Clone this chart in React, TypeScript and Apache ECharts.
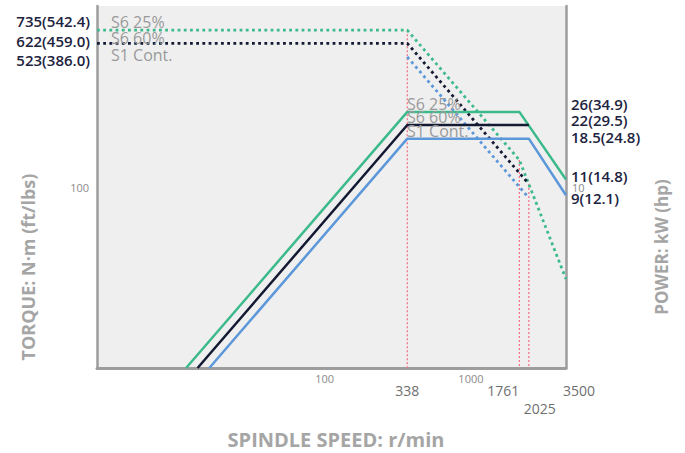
import React, { useEffect, useRef } from 'react';
import * as echarts from 'echarts';

// ---- data ----
const speedMin = 3.5;
const speedMax = 3500;
const speedLabelsMinor = [100, 1000];
const speedMarks = [338, 1761, 2025, 3500];
const torqueTickLabels = [100];
const powerTickLabels = [10];
const torqueFloor = 10;

const torqueS6_25 = [[3.5, 735], [338, 735], [1761, 141], [3500, 31]];
const torqueS6_60 = [[3.5, 622], [338, 622], [2025, 104]];
const torqueS1 = [[338, 523], [2025, 87]];
const powerS6_25 = [[13, 1], [338, 26], [1761, 26], [3500, 11]];
const powerS6_60 = [[15.4, 1], [338, 22], [2025, 22]];
const powerS1 = [[18.3, 1], [338, 18.5], [2025, 18.5], [3500, 9]];

const guideSpeeds = [338, 1761, 2025];
const guideTorques = [735, 141, 104];

const modeNames = ['S6 25%', 'S6 60%', 'S1 Cont.'];
const torqueValueLabels = ['735(542.4)', '622(459.0)', '523(386.0)'];
const powerValueLabels = ['26(34.9)', '22(29.5)', '18.5(24.8)', '11(14.8)', '9(12.1)'];

// ---- styles ----
const GREEN = '#3dba8b';
const NAVY = '#141a33';
const BLUE = '#5b97d9';
const PINK = '#f47589';
const AXIS = '#9d9d9d';
const FONT = "'Open Sans', 'Noto Sans', sans-serif";

export default function App() {
  const ref = useRef<HTMLDivElement>(null);
  useEffect(() => {
    if (!ref.current) return;
    const chart = echarts.init(ref.current, null, { renderer: 'svg' });

    const lineSeries = (name: string, data: number[][], color: string, yIndex: number, dotted: boolean, extra: any = {}) => ({
      name,
      type: 'line',
      xAxisIndex: 0,
      yAxisIndex: yIndex,
      data,
      symbol: 'none',
      silent: true,
      color,
      lineStyle: { color, width: dotted ? 2.8 : 2.5, type: dotted ? [2.8, 3.4] : 'solid' },
      ...extra,
    });

    const guideSeries = guideSpeeds.map((x, i) => ({
      name: `guide ${x}`,
      type: 'line',
      xAxisIndex: 0,
      yAxisIndex: 0,
      data: [[x, guideTorques[i]], [x, torqueFloor]],
      symbol: 'none',
      silent: true,
      z: 2,
      color: PINK,
      lineStyle: { color: PINK, width: 1.3, type: [2, 2] },
    }));

    const option: any = {
      animation: false,
      grid: {
        left: 97, right: 119, top: 6, bottom: 85,
        show: true, backgroundColor: '#efefef', borderWidth: 0,
      },
      xAxis: {
        type: 'log', logBase: 10, min: speedMin, max: speedMax,
        axisLine: { show: true, lineStyle: { color: AXIS, width: 3 } },
        axisTick: { show: false },
        splitLine: { show: false },
        axisLabel: {
          margin: 5,
          fontFamily: FONT,
          formatter: (v: number) => {
            const r = Math.round(v);
            if (!speedLabelsMinor.includes(r)) return '';
            return r >= 1000 ? `{k|${r}}` : `{s|${r}}`;
          },
          rich: {
            s: { fontSize: 11, color: '#8a8a8a', fontFamily: FONT },
            k: { fontSize: 11, color: '#8a8a8a', fontFamily: FONT, padding: [0, 20, 0, 0] },
          },
        },
      },
      yAxis: [
        {
          type: 'log', logBase: 10, min: 10, max: 1000,
          axisLine: { show: true, lineStyle: { color: AXIS, width: 2.5 } },
          axisTick: { show: false },
          splitLine: { show: false },
          axisLabel: {
            margin: 8, fontSize: 11, color: '#8a8a8a', fontFamily: FONT,
            formatter: (v: number) => (torqueTickLabels.includes(Math.round(v)) ? String(Math.round(v)) : ''),
          },
        },
        {
          type: 'log', logBase: 10, min: 1, max: 100,
          position: 'right',
          axisLine: { show: true, lineStyle: { color: AXIS, width: 2.5 } },
          axisTick: { show: false },
          splitLine: { show: false },
          axisLabel: {
            margin: 6, fontSize: 11, color: '#8a8a8a', fontFamily: FONT,
            formatter: (v: number) => (powerTickLabels.includes(Math.round(v)) ? String(Math.round(v)) : ''),
          },
        },
      ],
      series: [
        ...guideSeries,
        lineSeries('S6 25% torque', torqueS6_25, GREEN, 0, true, { z: 3 }),
        lineSeries('S6 60% torque', torqueS6_60, NAVY, 0, true, { z: 3 }),
        lineSeries('S1 torque', torqueS1, BLUE, 0, true, { z: 3 }),
        lineSeries('S6 25% power', powerS6_25, GREEN, 1, false, { z: 4 }),
        lineSeries('S6 60% power', powerS6_60, NAVY, 1, false, { z: 4 }),
        lineSeries('S1 power', powerS1, BLUE, 1, false, { z: 4 }),
      ],
    };
    chart.setOption(option);

    // labels of the marked speeds, placed through the axis scale
    const markLayout: Record<number, { align: string; y: number; dx: number }> = {
      338: { align: 'center', y: 390, dx: 0 },
      1761: { align: 'right', y: 390, dx: 0 },
      2025: { align: 'left', y: 408, dx: -5 },
      3500: { align: 'left', y: 390, dx: -3 },
    };
    const markTexts = speedMarks.map((v) => {
      const px = chart.convertToPixel({ xAxisIndex: 0 }, v) as number;
      const l = markLayout[v];
      return {
        type: 'text', x: px + l.dx, y: l.y, silent: true,
        style: { text: String(v), font: `14px ${FONT}`, fill: '#6f6f6f', align: l.align, verticalAlign: 'middle' },
      };
    });

    const greyLabel = (text: string, x: number, y: number) => ({
      type: 'text', x, y, silent: true, z: 10,
      style: { text, font: `16px ${FONT}`, fill: '#9a9a9a', align: 'left', verticalAlign: 'middle' },
    });
    const valLabel = (text: string, x: number, y: number, align: string) => ({
      type: 'text', x, y, silent: true,
      style: { text, font: `600 15px ${FONT}`, fill: '#1c2340', align, verticalAlign: 'middle' },
    });

    const leftModeY = [22, 38, 55];
    const midModeY = [104, 117, 131];
    const leftValY = [21, 41, 60];
    const rightValY = [104, 120, 137, 176, 198];

    chart.setOption({
      graphic: [
        ...markTexts,
        ...modeNames.map((t, i) => greyLabel(t, 111, leftModeY[i])),
        ...modeNames.map((t, i) => greyLabel(t, 407, midModeY[i])),
        ...torqueValueLabels.map((t, i) => valLabel(t, 90, leftValY[i], 'right')),
        ...powerValueLabels.map((t, i) => valLabel(t, 571, rightValY[i], 'left')),
        {
          type: 'text', x: 28, y: 267, rotation: Math.PI / 2, silent: true,
          style: { text: 'TORQUE: N·m (ft/lbs)', font: `bold 18px ${FONT}`, fill: '#a5a5a5', align: 'center', verticalAlign: 'middle' },
        },
        {
          type: 'text', x: 661, y: 247, rotation: Math.PI / 2, silent: true,
          style: { text: 'POWER: kW (hp)', font: `bold 17px ${FONT}`, fill: '#a5a5a5', align: 'center', verticalAlign: 'middle' },
        },
        {
          type: 'text', x: 336, y: 439, silent: true,
          style: { text: 'SPINDLE SPEED: r/min', font: `bold 20px ${FONT}`, fill: '#a5a5a5', align: 'center', verticalAlign: 'middle' },
        },
      ],
    });

    return () => chart.dispose();
  }, []);

  return <div ref={ref} style={{ position: 'fixed', left: 0, top: 0, width: 685, height: 453, background: '#fff' }} />;
}
